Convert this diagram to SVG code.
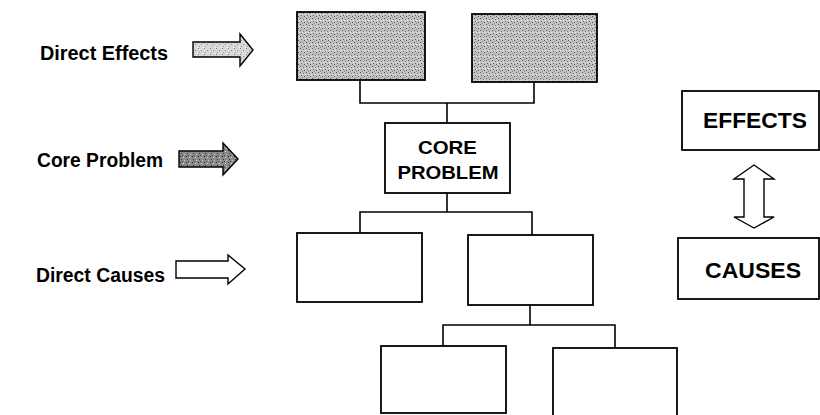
<svg xmlns="http://www.w3.org/2000/svg" width="820" height="415" viewBox="0 0 820 415">
<style>
.box{fill:#fff;stroke:#000;stroke-width:1.8}
.shaded{fill:url(#speckle);stroke:#000;stroke-width:1.8}
.conn{fill:none;stroke:#000;stroke-width:1.6}
.lbl{font-family:"Liberation Sans",Arial,sans-serif;font-weight:bold;font-size:19.5px;fill:#000}
.ntx{font-family:"Liberation Sans",Arial,sans-serif;font-weight:bold;fill:#000;text-anchor:middle}
.arr{stroke:#000;stroke-width:1.4;stroke-linejoin:miter}
</style>
<defs>
<pattern id="speckle" width="6" height="6" patternUnits="userSpaceOnUse">
<rect width="6" height="6" fill="#c2c2c2"/>
<rect x="0" y="0" width="1" height="1" fill="#555"/>
<rect x="3" y="1" width="1" height="1" fill="#777"/>
<rect x="1" y="3" width="1" height="1" fill="#666"/>
<rect x="4" y="4" width="1" height="1" fill="#555"/>
<rect x="2" y="5" width="1" height="1" fill="#888"/>
<rect x="5" y="2" width="1" height="1" fill="#eee"/>
<rect x="2" y="2" width="1" height="1" fill="#e6e6e6"/>
</pattern>
<pattern id="speckleLight" width="6" height="6" patternUnits="userSpaceOnUse">
<rect width="6" height="6" fill="#d8d8d8"/>
<rect x="0" y="0" width="1" height="1" fill="#777"/>
<rect x="3" y="2" width="1" height="1" fill="#888"/>
<rect x="1" y="4" width="1" height="1" fill="#999"/>
<rect x="5" y="5" width="1" height="1" fill="#f5f5f5"/>
</pattern>
<pattern id="speckleDark" width="6" height="6" patternUnits="userSpaceOnUse">
<rect width="6" height="6" fill="#8a8a8a"/>
<rect x="0" y="0" width="1" height="1" fill="#222"/>
<rect x="3" y="1" width="1" height="1" fill="#ddd"/>
<rect x="1" y="3" width="1" height="1" fill="#333"/>
<rect x="4" y="4" width="1" height="1" fill="#ccc"/>
<rect x="2" y="5" width="1" height="1" fill="#444"/>
</pattern>
</defs>

<g id="legend">
<g id="label-direct-effects">
<text class="lbl" x="40" y="60" textLength="128" lengthAdjust="spacingAndGlyphs">Direct Effects</text>
<polygon class="arr" fill="url(#speckleLight)" points="193,42 240,42 240,34 253,50 240,66 240,57 193,57"/>
</g>
<g id="label-core-problem">
<text class="lbl" x="37" y="167" textLength="126" lengthAdjust="spacingAndGlyphs">Core Problem</text>
<polygon class="arr" fill="url(#speckleDark)" points="179,151 223,151 223,143 238,159 223,175 223,167 179,167"/>
</g>
<g id="label-direct-causes">
<text class="lbl" x="36" y="282" textLength="129" lengthAdjust="spacingAndGlyphs">Direct Causes</text>
<polygon class="arr" fill="#fff" points="176,261 228,261 228,255 245,269 228,284 228,278 176,278"/>
</g>
</g>

<g id="connectors">
<polyline class="conn" points="360,80 360,103 534,103 534,82"/>
<line class="conn" x1="447" y1="103" x2="447" y2="123"/>
<line class="conn" x1="447" y1="193" x2="447" y2="212"/>
<polyline class="conn" points="360,233 360,212 532,212 532,235"/>
<line class="conn" x1="530" y1="305" x2="530" y2="325"/>
<polyline class="conn" points="443,346 443,325 615,325 615,348"/>
</g>

<g id="effect-1"><rect class="shaded" x="297" y="12" width="128" height="68"/></g>
<g id="effect-2"><rect class="shaded" x="472" y="14" width="125" height="68"/></g>

<g id="core-problem">
<rect class="box" x="385" y="123" width="125" height="70"/>
<text class="ntx" x="447.5" y="154" font-size="19" textLength="59" lengthAdjust="spacingAndGlyphs">CORE</text>
<text class="ntx" x="448" y="179" font-size="19" textLength="101" lengthAdjust="spacingAndGlyphs">PROBLEM</text>
</g>

<g id="cause-1"><rect class="box" x="297" y="233" width="125" height="69"/></g>
<g id="cause-2"><rect class="box" x="468" y="235" width="125" height="70"/></g>
<g id="sub-cause-1"><rect class="box" x="381" y="346" width="125" height="67"/></g>
<g id="sub-cause-2"><rect class="box" x="553" y="348" width="124" height="70"/></g>

<g id="effects">
<rect class="box" x="682" y="91" width="137" height="59"/>
<text class="ntx" x="755" y="128" font-size="22" textLength="104" lengthAdjust="spacingAndGlyphs">EFFECTS</text>
</g>
<g id="causes">
<rect class="box" x="678" y="238" width="141" height="61"/>
<text class="ntx" x="753" y="278" font-size="22" textLength="96" lengthAdjust="spacingAndGlyphs">CAUSES</text>
</g>
<g id="double-arrow">
<polygon class="arr" fill="#fff" points="754,165 774,179 764,179 764,217 774,217 754,228 734,217 744,217 744,179 734,179"/>
</g>
</svg>
